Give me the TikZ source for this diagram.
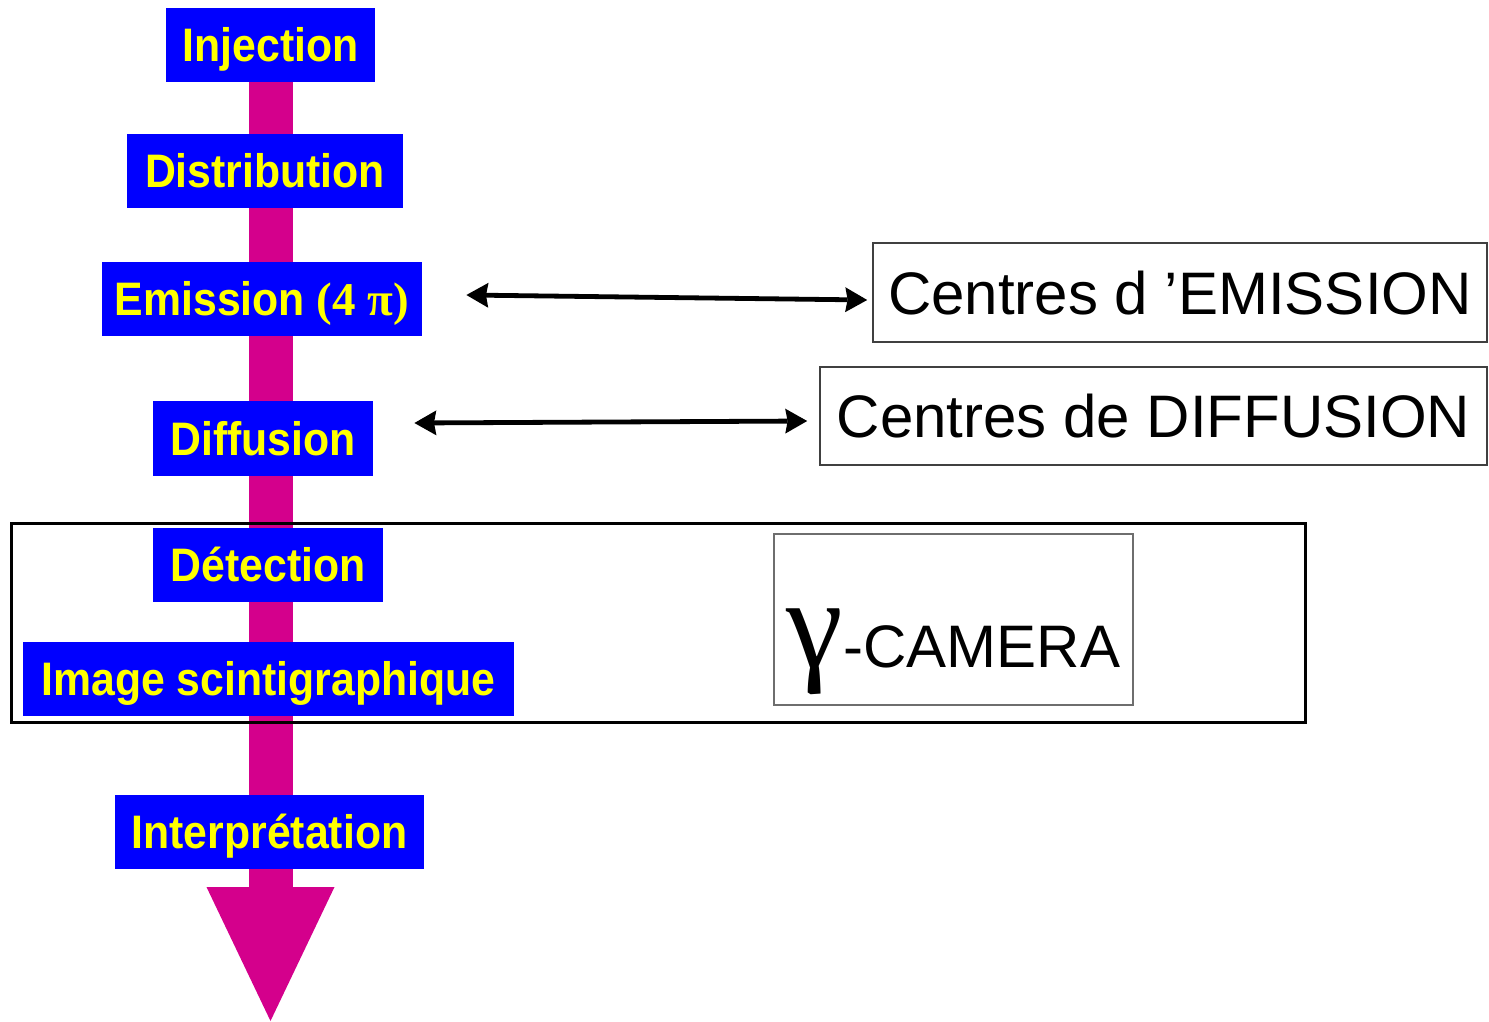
\documentclass[tikz,border=0pt]{standalone}
\usepackage{fontspec}
\setmainfont{Liberation Sans}
\newfontfamily\boxfont[FakeStretch=0.91]{Liberation Sans Bold}
\newfontfamily\serifbold{Liberation Serif Bold}
\newfontfamily\seriffont{Liberation Serif}
\usetikzlibrary{arrows.meta,backgrounds}
\definecolor{boxblue}{RGB}{0,0,255}
\definecolor{boxyellow}{RGB}{255,255,0}
\definecolor{flowpink}{RGB}{212,0,140}
\definecolor{edgegray}{RGB}{110,110,110}
\begin{document}
\begin{tikzpicture}[x=0.5pt,y=-0.5pt,
 stage/.style={rectangle, fill=boxblue, text=boxyellow, font=\boxfont\fontsize{23.5}{23.5}\selectfont, inner sep=0pt, minimum height=37pt, text height=16.8pt, text depth=0pt},
 centre/.style={rectangle, draw=black!75, line width=0.8pt, fill=white, font=\fontsize{30}{30}\selectfont, inner sep=0pt, text height=21.5pt, text depth=0pt},
 link/.style={line width=2.4pt, {Stealth[length=11pt,width=12.5pt,inset=1.2pt,line width=0pt]}-{Stealth[length=11pt,width=12.5pt,inset=1.2pt,line width=0pt]}},
 framebox/.style={rectangle, draw=black, line width=1.5pt, inner sep=0pt},
 cambox/.style={rectangle, draw=edgegray, line width=0.8pt, fill=white, inner sep=0pt, text height=50pt, text depth=2.5pt, font=\fontsize{30}{30}\selectfont},
 flow/.style={flowpink, line width=22pt, -{Triangle[length=67pt,width=64pt,line width=0pt]}}
]
\useasboundingbox (0,0) rectangle (1489,1022);
% frame around detection stages
\node[framebox, minimum width=647pt, minimum height=99.5pt] (frame) at (658,622.5) {};
% stages
\node[stage, minimum width=104.5pt] (inj) at (270.5,45) {Injection};
\node[stage, minimum width=138pt] (dist) at (265,171) {Distribution};
\node[stage, minimum width=160pt] (emi) at (262,299) {Emission {\serifbold(4 π)}};
\node[stage, minimum width=110pt, minimum height=37.5pt] (dif) at (263,438.5) {Diffusion};
\node[stage, minimum width=115pt] (det) at (268,565) {Détection};
\node[stage, minimum width=245.5pt] (img) at (268.5,679) {Image scintigraphique};
\node[stage, minimum width=154.5pt] (interp) at (269.5,832) {Interprétation};
\coordinate (tip) at (270.5,1021);
% right-hand boxes
\node[centre, minimum width=307pt, minimum height=49.5pt] (cemi) at (1180,292.5) {Centres d ’EMISSION};
\node[centre, minimum width=333.5pt, minimum height=49pt] (cdif) at (1153.5,416) {Centres de DIFFUSION};
\node[cambox, minimum width=179.5pt, minimum height=85.5pt] (cam) at (953.5,619.5) {{\seriffont\fontsize{64}{64}\selectfont γ}-CAMERA};
% connectors
\draw[link] ([xshift=22pt,yshift=2pt]emi.east) -- ([xshift=-2.5pt,yshift=-3.75pt]cemi.west);
\draw[link] ([xshift=20.5pt,yshift=7.75pt]dif.east) -- ([xshift=-6pt,yshift=-2.5pt]cdif.west);
\begin{pgfonlayer}{background}
\draw[flow] (inj.south) -- (tip);
\end{pgfonlayer}
\end{tikzpicture}
\end{document}
